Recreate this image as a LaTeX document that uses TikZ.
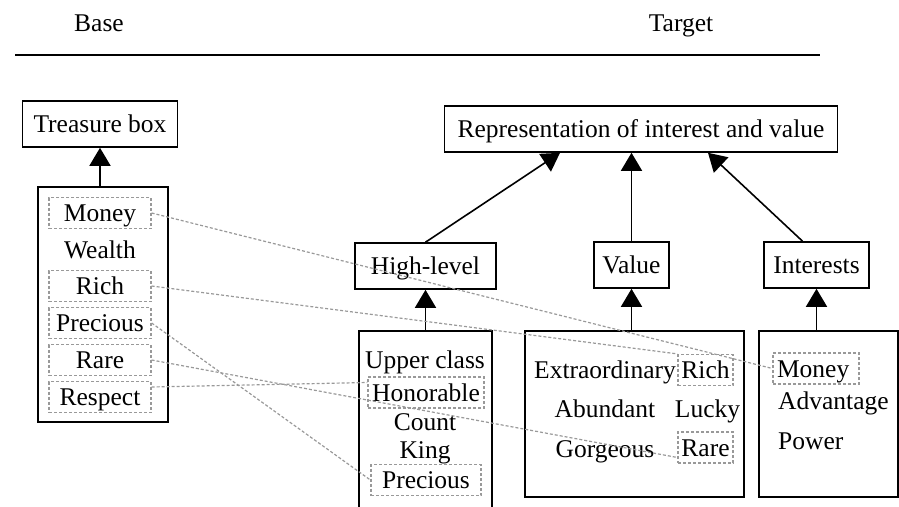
\documentclass[tikz,border=0pt]{standalone}
\usepackage{fontspec}
\setmainfont{Liberation Serif}
\usepackage{tikz}
\usetikzlibrary{positioning, calc, arrows.meta}

\begin{document}
\begin{tikzpicture}[
    x=1pt, y=-1pt,
    every node/.style={font=\fontsize{25.5}{29}\selectfont, text height=19.5pt, text depth=2.5pt},
    topbox/.style={rectangle, draw, line width=1.6pt, minimum height=46pt, inner sep=0pt},
    listbox/.style={rectangle, draw, line width=1.6pt, inner sep=0pt},
    mapbox/.style={rectangle, draw=gray!80, line width=1.2pt, dash pattern=on 3pt off 2pt, minimum height=31pt, inner sep=0pt},
    word/.style={inner sep=0pt},
    up_arrow/.style={-{Triangle[length=18pt, width=21pt]}, line width=1.6pt},
    map_line/.style={draw=gray!80, line width=1.2pt, dash pattern=on 3pt off 2pt}
]
    \useasboundingbox (0,0) rectangle (899,506);

    % Headings
    \node[word] (base) at (99,23) {Base};
    \node[word] (target) at (681,23) {Target};
    \coordinate (ruleL) at (15,55);
    \coordinate (ruleR) at (820,55);
    \draw[line width=1.4pt] (ruleL) -- (ruleR);

    % Base side
    \node[topbox, minimum width=155pt] (treasure) at (100,124) {Treasure box};
    \node[listbox, minimum width=130pt, minimum height=235pt] (baselist) at (103,304.5) {};
    \draw[up_arrow] (baselist.north -| treasure.south) -- (treasure.south);

    \node[mapbox, minimum width=102pt] (bmoney) at (100,213) {Money};
    \node[word] (bwealth) at (100,250) {Wealth};
    \node[mapbox, minimum width=102pt] (brich) at (100,286) {Rich};
    \node[mapbox, minimum width=102pt] (bprecious) at (100,323) {Precious};
    \node[mapbox, minimum width=102pt] (brare) at (100,360) {Rare};
    \node[mapbox, minimum width=102pt] (brespect) at (100,397) {Respect};

    % Target side
    \node[topbox, minimum width=393pt] (repr) at (641,129) {Representation of interest and value};
    \node[topbox, minimum width=141pt] (highlevel) at (425.5,266) {High-level};
    \node[topbox, minimum width=75pt] (value) at (631.5,265) {Value};
    \node[topbox, minimum width=105pt] (interests) at (816.5,265) {Interests};

    \draw[up_arrow] (highlevel.north) -- ($(repr.south)+(-81,0)$);
    \draw[up_arrow] (value.north) -- (value.north |- repr.south);
    \draw[up_arrow] ($(interests.north)+(-14,0)$) -- ($(repr.south)+(67,0)$);

    % High-level list
    \node[listbox, minimum width=133pt, minimum height=178pt] (highlist) at (425.5,420) {};
    \draw[up_arrow] (highlist.north) -- (highlevel.south);
    \node[word] (upper) at (425,360) {Upper class};
    \node[mapbox, minimum width=116pt] (honorable) at (426,392.5) {Honorable};
    \node[word] (count) at (425,422) {Count};
    \node[word] (king) at (425,450) {King};
    \node[mapbox, minimum width=110pt] (hprecious) at (426,480) {Precious};

    % Value list
    \node[listbox, minimum width=219pt, minimum height=166pt] (valuelist) at (634.5,414) {};
    \draw[up_arrow] (valuelist.north -| value.south) -- (value.south);
    \node[word] (extra) at (605,370) {Extraordinary};
    \node[mapbox, minimum width=55pt] (vrich) at (705.5,370) {Rich};
    \node[word] (abundant) at (605,409) {Abundant};
    \node[word] (lucky) at (707.5,409) {Lucky};
    \node[word] (gorgeous) at (605,449) {Gorgeous};
    \node[mapbox, minimum width=55pt] (vrare) at (705.5,447.5) {Rare};

    % Interests list
    \node[listbox, minimum width=139pt, minimum height=166pt] (interestlist) at (828.5,414) {};
    \draw[up_arrow] (interestlist.north -| interests.south) -- (interests.south);
    \node[mapbox, text width=78pt, inner xsep=4pt, align=left] (imoney) at (816,368.5) {Money};
    \node[word, anchor=west] (advantage) at (778,401) {Advantage};
    \node[word, anchor=west] (power) at (778,441) {Power};

    % Mapping lines
    \draw[map_line] (bmoney.east) -- (imoney.west);
    \draw[map_line] (brich.east) -- (vrich.north west);
    \draw[map_line] (bprecious.east) -- (hprecious.west);
    \draw[map_line] (brare.east) -- ([yshift=-10pt]vrare.west);
    \draw[map_line] ([yshift=10pt]brespect.east) -- ([yshift=10pt]honorable.west);
\end{tikzpicture}
\end{document}
